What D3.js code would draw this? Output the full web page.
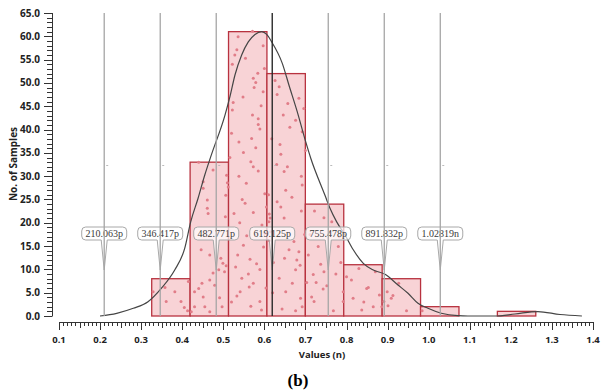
<!DOCTYPE html>
<html>
<head>
<meta charset="utf-8">
<script src="https://cdn.jsdelivr.net/npm/d3@7"></script>
<style>
  html, body { margin: 0; padding: 0; background: #fff; }
  svg { display: block; }
</style>
</head>
<body>
<svg id="chart" width="601" height="391"></svg>
<script>
// ---------- DATA ----------
const binEdges = [0.3257, 0.4192, 0.5127, 0.6062, 0.6997, 0.7932, 0.8867, 0.9802, 1.0737, 1.1672, 1.2607];
const binCounts = [8, 33, 61, 52, 24, 11, 8, 2, 0, 1];

const markerValues = [0.210063, 0.346417, 0.482771, 0.619125, 0.755478, 0.891832, 1.02819];
const markerLabels = ["210.063p", "346.417p", "482.771p", "619.125p", "755.478p", "891.832p", "1.02819n"];
const meanMarkerIndex = 3;

const curveX = [0.1998, 0.2405, 0.2809, 0.3167, 0.349, 0.3817, 0.406, 0.4206, 0.4384, 0.4547, 0.4707,
  0.5041, 0.5163, 0.5284, 0.5447, 0.5608, 0.5771, 0.5934, 0.6056, 0.6178, 0.6436, 0.6599, 0.6801,
  0.7005, 0.7127, 0.7475, 0.7597, 0.776, 0.7962, 0.8164, 0.8408, 0.8651, 0.8936, 0.9252, 0.9496,
  0.9739, 0.9983, 1.0306, 1.0713, 1.0956, 1.1613, 1.21, 1.266, 1.3196, 1.373];
const curveY = [0, 0.58, 1.65, 3.07, 5.93, 9.87, 14.5, 20.2, 25.2, 30.2, 34.5,
  43.1, 47.1, 51.7, 56.0, 58.8, 60.4, 61.0, 60.4, 58.8, 54.2, 49.5, 43.8,
  37.4, 33.9, 25.9, 23.1, 20.2, 17.4, 14.2, 11.3, 9.87, 8.94, 6.65, 4.87,
  2.73, 1.65, 0.58, 0.06, 0, 0, 0.43, 0.96, 0.32, 0];

// sample points drawn inside the bars: [value (n), vertical level (samples)]
const samplePoints = [
  [0.329,5.2],[0.358,6.1],[0.382,5.2],[0.361,3.1],[0.397,3.1],[0.405,1.8],[0.413,1.1],[0.415,7.4],
  [0.440,33.0],[0.475,31.3],[0.451,27.4],[0.461,24.9],[0.461,23.1],[0.463,22.0],[0.505,21.3],[0.446,14.2],
  [0.467,13.1],[0.494,12.4],[0.499,11.3],[0.507,10.8],[0.489,9.9],[0.503,9.5],[0.475,9.2],[0.467,7.7],
  [0.448,7.0],[0.440,5.9],[0.479,6.6],[0.430,5.2],[0.451,4.1],[0.491,3.9],[0.430,2.0],[0.455,2.0],
  [0.497,2.0],[0.422,0.9],[0.467,0.9],[0.508,30.2],[0.510,28.6],[0.451,28.8],[0.506,25.9],
  [0.536,59.9],[0.571,61.1],[0.533,57.1],[0.528,56.0],[0.554,55.3],[0.522,54.0],[0.597,58.0],[0.600,53.1],
  [0.584,52.1],[0.573,51.0],[0.579,50.1],[0.575,49.0],[0.597,48.1],[0.524,45.8],[0.592,45.1],[0.522,44.2],
  [0.571,43.1],[0.585,42.3],[0.585,41.1],[0.589,40.1],[0.520,39.2],[0.569,38.1],[0.538,37.3],[0.579,36.1],
  [0.549,35.1],[0.516,34.0],[0.567,33.1],[0.573,32.0],[0.585,31.1],[0.538,30.0],[0.546,25.0],[0.553,24.2],
  [0.573,22.2],[0.601,26.2],[0.557,17.2],[0.549,15.2],[0.535,13.1],[0.565,12.2],[0.581,11.2],[0.589,10.0],
  [0.561,9.0],[0.545,8.1],[0.573,7.0],[0.563,6.2],[0.541,5.2],[0.533,4.3],[0.589,3.1],[0.567,2.1],
  [0.593,1.3],[0.601,17.7],[0.512,27.7],[0.605,23.4],[0.540,20.0],[0.594,19.5],[0.526,22.0],[0.556,28.5],
  [0.598,14.8],[0.530,10.5],[0.604,6.0],[0.520,3.0],[0.548,47.0],
  [0.636,49.2],[0.684,46.7],[0.646,43.1],[0.676,42.0],[0.692,39.5],[0.638,36.8],[0.640,34.7],[0.630,32.5],
  [0.656,32.0],[0.648,31.0],[0.692,28.1],[0.652,27.0],[0.631,24.5],[0.640,23.4],[0.690,22.5],[0.648,21.0],
  [0.660,14.2],[0.684,13.8],[0.679,12.0],[0.649,12.4],[0.687,10.9],[0.676,9.9],[0.636,8.1],[0.668,7.0],
  [0.652,5.2],[0.688,3.8],[0.676,1.1],[0.692,2.0],[0.610,26.0],[0.612,21.9],[0.614,21.0],[0.611,20.2],
  [0.615,18.1],[0.612,16.2],[0.626,50.5],[0.631,47.5],[0.696,44.5],[0.662,40.5],[0.618,38.0],[0.700,35.5],
  [0.667,25.5],[0.622,11.5],[0.698,17.5],[0.657,45.6],[0.690,30.0],[0.620,5.0],[0.643,1.5],[0.672,16.0],
  [0.745,21.1],[0.764,20.2],[0.780,14.9],[0.731,14.9],[0.707,13.1],[0.737,11.1],[0.745,9.5],[0.719,8.9],
  [0.703,7.2],[0.726,7.2],[0.743,5.8],[0.715,4.1],[0.721,3.1],[0.768,1.1],[0.792,5.2],[0.792,3.1],
  [0.782,17.0],[0.722,22.5],[0.758,18.0],[0.711,17.5],[0.786,11.5],[0.752,6.5],[0.774,9.0],
  [0.837,1.3],[0.853,6.1],[0.800,8.4],[0.816,3.8],[0.849,5.9],[0.865,2.0],[0.812,7.7],[0.870,9.5],
  [0.830,10.2],[0.880,4.5],[0.842,3.0],
  [0.899,5.2],[0.909,3.8],[0.901,2.2],[0.886,2.0],[0.927,7.0],[0.946,1.1],[0.891,3.1],[0.913,4.4],
  [0.984,1.1]
];

const xDomain = [0.1, 1.4];
const yDomain = [0, 65];
const xTitle = "Values (n)";
const yTitle = "No. of Samples";
const caption = "(b)";

// ---------- CHART ----------
const svg = d3.select("#chart");
const x = d3.scaleLinear().domain(xDomain).range([59, 593]);
const y = d3.scaleLinear().domain(yDomain).range([316, 13]);

const tickFont = "'Open Sans', 'Noto Sans', sans-serif";

// Y axis
const yAxisX = 52;
const yMinor = d3.range(0, 65.001, 1);
svg.append("g").selectAll("line").data(yMinor).join("line")
  .attr("x1", d => yAxisX - (d % 5 === 0 ? 8 : 5)).attr("x2", yAxisX)
  .attr("y1", d => Math.round(y(d)) + 0.5).attr("y2", d => Math.round(y(d)) + 0.5)
  .attr("stroke", "#333").attr("stroke-width", 1);
svg.append("line").attr("x1", yAxisX + 0.5).attr("x2", yAxisX + 0.5)
  .attr("y1", y(65)).attr("y2", y(0) + 0.5).attr("stroke", "#333").attr("stroke-width", 1);
svg.append("g").selectAll("text").data(d3.range(0, 65.001, 5)).join("text")
  .attr("x", 40).attr("y", d => y(d)).attr("dy", "0.35em")
  .attr("text-anchor", "end")
  .style("font-family", tickFont).style("font-weight", 700).style("font-size", "10px")
  .attr("fill", "#222")
  .text(d => d3.format(".1f")(d));

// X axis
const xAxisY = 322;
svg.append("line").attr("x1", x(0.1)).attr("x2", x(1.4))
  .attr("y1", xAxisY + 0.5).attr("y2", xAxisY + 0.5).attr("stroke", "#333").attr("stroke-width", 1);
const xMinor = d3.range(10, 141, 1).map(d => d / 100);
svg.append("g").selectAll("line").data(xMinor).join("line")
  .attr("x1", d => Math.round(x(d)) + 0.5).attr("x2", d => Math.round(x(d)) + 0.5)
  .attr("y1", xAxisY)
  .attr("y2", (d, i) => xAxisY + (i % 10 === 0 ? 8 : (i % 5 === 0 ? 6 : 4)))
  .attr("stroke", "#333").attr("stroke-width", 1);
svg.append("g").selectAll("text").data(d3.range(1, 15).map(d => d / 10)).join("text")
  .attr("x", d => x(d)).attr("y", 343)
  .attr("text-anchor", "middle")
  .style("font-family", tickFont).style("font-weight", 700).style("font-size", "9.5px")
  .attr("fill", "#222")
  .text(d => d3.format(".1f")(d));

// axis titles
svg.append("text").attr("x", 322).attr("y", 357.5)
  .attr("text-anchor", "middle")
  .style("font-family", tickFont).style("font-weight", 700).style("font-size", "9.5px")
  .attr("fill", "#222").text(xTitle);
svg.append("text").attr("transform", "translate(17,164) rotate(-90)")
  .attr("text-anchor", "middle")
  .style("font-family", tickFont).style("font-weight", 700).style("font-size", "10px")
  .attr("fill", "#222").text(yTitle);

// caption
svg.append("text").attr("x", 298).attr("y", 386)
  .attr("text-anchor", "middle")
  .style("font-family", "'Liberation Serif', 'Times New Roman', serif").style("font-weight", 700)
  .style("font-size", "17px").attr("fill", "#000").text(caption);

// Bars
const bins = binCounts.map((c, i) => ({ x0: binEdges[i], x1: binEdges[i + 1], c }))
  .filter(b => b.c > 0);
svg.append("g").selectAll("rect").data(bins).join("rect")
  .attr("x", d => x(d.x0)).attr("width", d => x(d.x1) - x(d.x0))
  .attr("y", d => y(d.c)).attr("height", d => y(0) - y(d.c))
  .attr("fill", "#f8d3d6").attr("stroke", "#b8323f").attr("stroke-width", 1.3);

// sample dots
svg.append("g").selectAll("circle").data(samplePoints).join("circle")
  .attr("cx", d => x(d[0])).attr("cy", d => y(d[1])).attr("r", 1.5)
  .attr("fill", "#e17d88");

// density curve
const line = d3.line().x(d => x(d[0])).y(d => y(d[1])).curve(d3.curveMonotoneX);
svg.append("path").datum(curveX.map((v, i) => [v, curveY[i]]))
  .attr("d", line).attr("fill", "none").attr("stroke", "#454545").attr("stroke-width", 1.2);

// marker callouts
const boxTop = 227, boxBot = 240, tipY = 270;
const gm = svg.append("g");
markerValues.forEach((v, i) => {
  const cx = x(v);
  const w = markerLabels[i].length * 5 + 5;
  const x0 = cx - w / 2, x1 = cx + w / 2, r = 4;
  const p = `M${x0 + r},${boxTop} H${x1 - r} Q${x1},${boxTop} ${x1},${boxTop + r} V${boxBot - r} Q${x1},${boxBot} ${x1 - r},${boxBot}
    H${cx + 3} L${cx},${tipY} L${cx - 3},${boxBot} H${x0 + r} Q${x0},${boxBot} ${x0},${boxBot - r} V${boxTop + r} Q${x0},${boxTop} ${x0 + r},${boxTop} Z`;
  gm.append("path").attr("d", p).attr("fill", "rgba(255,255,255,0.7)")
    .attr("stroke", "#a8a8a8").attr("stroke-width", 1);
  gm.append("text").attr("x", cx).attr("y", boxTop + 10)
    .attr("text-anchor", "middle")
    .style("font-family", "'Liberation Serif', 'DejaVu Serif', serif").style("font-size", "10px")
    .attr("fill", "#3a3a3a").text(markerLabels[i]);
});

// marker lines
svg.append("g").selectAll("line").data(markerValues).join("line")
  .attr("x1", d => x(d)).attr("x2", d => x(d))
  .attr("y1", y(65)).attr("y2", y(0))
  .attr("stroke", (d, i) => i === meanMarkerIndex ? "#2a2a2a" : "#a5a5a5")
  .attr("stroke-width", (d, i) => i === meanMarkerIndex ? 1.4 : 1.3);
svg.append("g").selectAll("line").data(markerValues).join("line")
  .attr("x1", d => x(d) + 2).attr("x2", d => x(d) + 4)
  .attr("y1", 165.5).attr("y2", 165.5)
  .attr("stroke", "#bbbbbb").attr("stroke-width", 1);
</script>
</body>
</html>
